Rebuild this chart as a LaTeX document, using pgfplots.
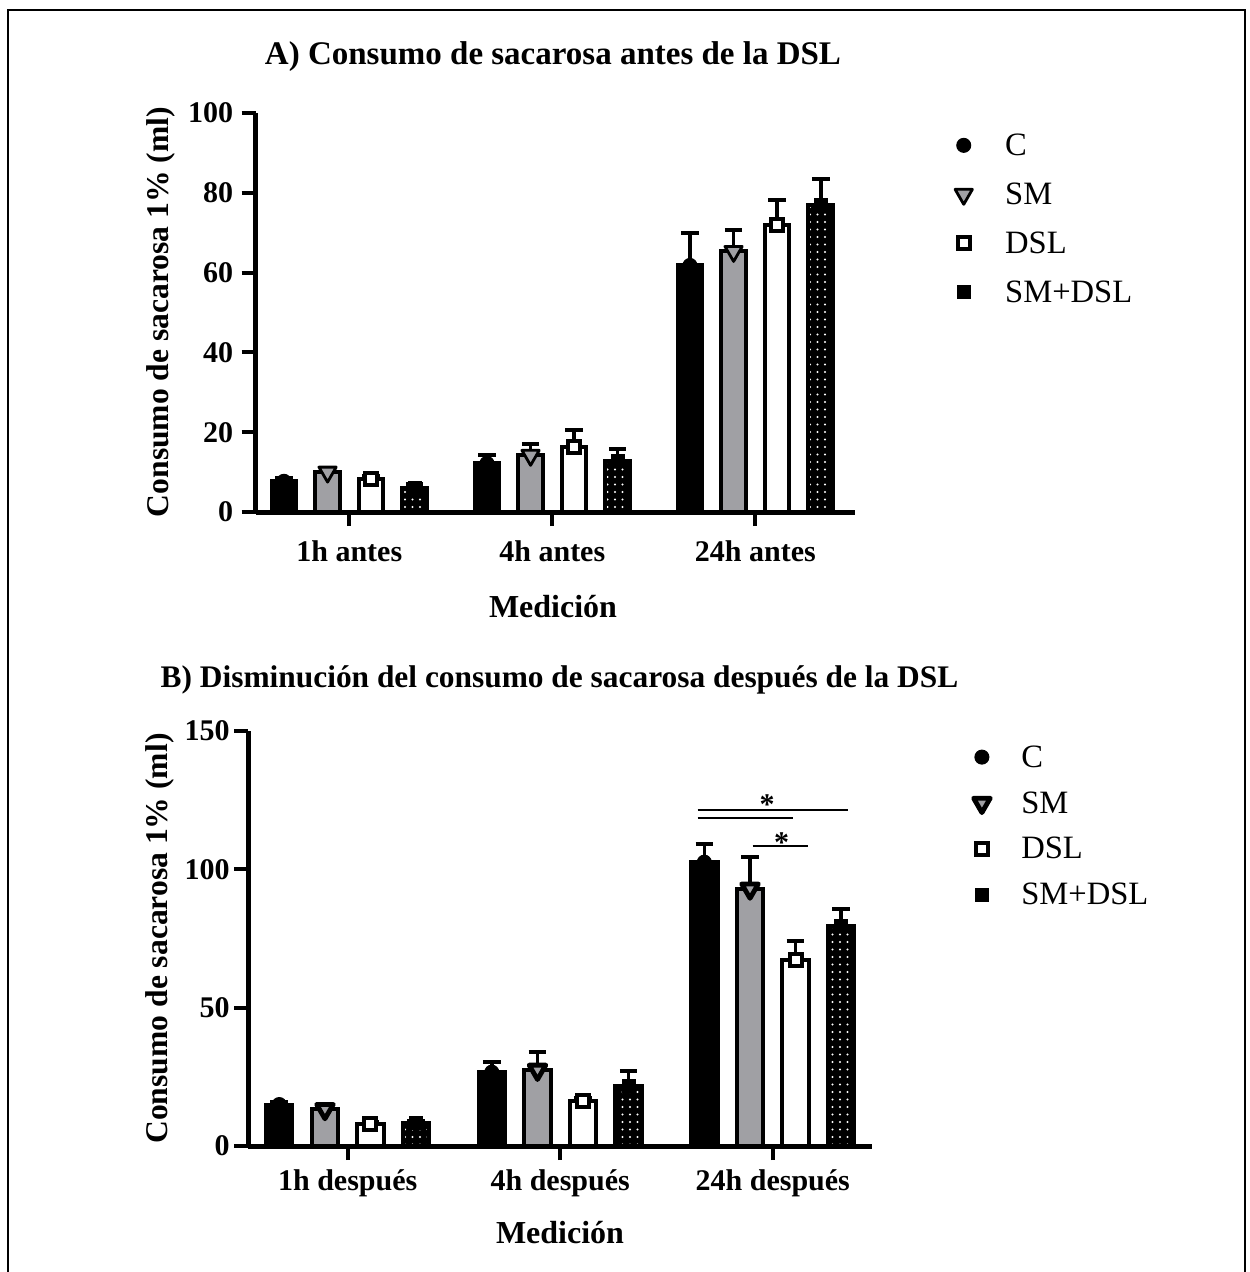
\documentclass[border=0pt]{standalone}
\usepackage{fontspec}
\setmainfont{Liberation Serif}
\usepackage{pgfplots}
\pgfplotsset{compat=1.18}
\usetikzlibrary{patterns.meta}
\definecolor{smgray}{RGB}{160,160,164}
\pgfplotsset{
  mybase/.style={
    scale only axis,
    enlargelimits=false,
    clip=false,
    axis x line*=bottom, axis y line*=left,
    axis line style={line width=2.5pt,-},
    tick style={line width=2pt, black},
    tick align=outside,
    major tick length=7pt,
    xtick={0,1,2},
    ymin=0,
    /pgf/number format/assume math mode=true,
    ticklabel style={font=\bfseries},
    legend cell align=left,
  },
  errs/.style={/pgfplots/error bars/y dir=plus, /pgfplots/error bars/y explicit,
    /pgfplots/error bars/error bar style={line width=1.8pt, black},
    /pgfplots/error bars/error mark options={rotate=90, line width=2pt, mark size=4.4pt, black}},
  barC/.style={ybar, bar shift=0pt, fill=black, draw=black, line width=2pt, errs},
  barSM/.style={ybar, bar shift=0pt, fill=smgray, draw=black, line width=2pt, errs},
  barDSL/.style={ybar, bar shift=0pt, fill=white, draw=black, line width=2pt, errs},
  barSMDSL/.style={ybar, bar shift=0pt, fill=black, draw=black, line width=2pt,
    postaction={pattern={Dots[distance=3.75pt, radius=0.55pt]}, pattern color=white}, errs},
  mC/.style={only marks, mark=*, mark size=3.5pt, mark options={fill=black, draw=black, line width=0.5pt}},
  mDSL/.style={only marks, mark=square*, mark size=3pt, mark options={fill=white, draw=black, line width=2pt}},
  mSMDSL/.style={only marks, mark=square*, mark size=3.3pt, mark options={fill=black, draw=black, line width=0.5pt}},
}
\begin{document}
\fontsize{15}{18}\selectfont\bfseries
\begin{tikzpicture}
\useasboundingbox (0pt,0pt) rectangle (624.5pt,-636pt);
\draw[line width=1pt] (4pt,-650pt) -- (4pt,-5pt) -- (622.5pt,-5pt) -- (622.5pt,-650pt);
\node[anchor=base, font=\fontsize{16.5}{19}\selectfont] at (276.5pt,-32.5pt) {A) Consumo de sacarosa antes de la DSL};
\node[anchor=base, font=\fontsize{16}{19}\selectfont] at (276.5pt,-308.5pt) {Medición};
\node[anchor=base, rotate=90, font=\fontsize{15.8}{19}\selectfont] at (84pt,-156pt) {Consumo de sacarosa 1\% (ml)};
\node[anchor=base, font=\fontsize{15.7}{19}\selectfont] at (279.75pt,-343.5pt) {B) Disminución del consumo de sacarosa después de la DSL};
\node[anchor=base, font=\fontsize{16}{19}\selectfont] at (280pt,-621.5pt) {Medición};
\node[anchor=base, rotate=90, font=\fontsize{15.8}{19}\selectfont] at (83.5pt,-469.25pt) {Consumo de sacarosa 1\% (ml)};

% ---------------- A ----------------
\begin{axis}[mybase,
  at={(127.75pt,-256pt)}, anchor=south west,
  width=299.75pt, height=199.5pt,
  xmin=-0.462, xmax=2.491, ymax=100,
  ytick={0,20,40,60,80,100},
  yticklabel style={anchor=east, inner sep=0pt, xshift=-4pt},
  xticklabel style={anchor=base, yshift=-17.5pt},
  xticklabels={1h antes, 4h antes, 24h antes},
  legend style={draw=none, fill=none, at={(axis description cs:1.150,0.950)}, anchor=north west,
    font=\fontsize{16.3}{19}\selectfont\mdseries, row sep=10.5pt, inner sep=0pt,
    nodes={inner sep=0pt, text height=11pt, text depth=3pt, anchor=base west}},
  legend image code/.code={\path (-9pt,0pt) (20.5pt,0pt); \draw[#1] plot coordinates {(0pt,5pt)};},
]
\addplot[bar width=0.1207, barC, forget plot] coordinates {(-0.322,7.7) +- (0,0.8) (0.678,12.2) +- (0,2.0) (1.678,61.8) +- (0,8.0)};
\addplot[bar width=0.1207, barSM, forget plot] coordinates {(-0.107,10.0) +- (0,0.5) (0.893,14.2) +- (0,2.8) (1.893,65.3) +- (0,5.5)};
\addplot[bar width=0.1207, barDSL, forget plot] coordinates {(0.107,8.3) +- (0,0.8) (1.107,16.3) +- (0,4.2) (2.107,72.0) +- (0,6.2)};
\addplot[bar width=0.1207, barSMDSL, forget plot] coordinates {(0.322,6.0) +- (0,1.0) (1.322,12.8) +- (0,2.9) (2.322,77.0) +- (0,6.5)};
\addplot[mC] coordinates {(-0.322,7.7) (0.678,12.2) (1.678,61.8)};
\addlegendentry{C}
\addplot[only marks, mark=triangle*, mark size=5pt, mark options={rotate=180, fill=smgray, draw=black, line width=1.4pt, line join=round}] coordinates {(-0.107,10.0) (0.893,14.2) (1.893,65.3)};
\addlegendentry{SM}
\addplot[mDSL] coordinates {(0.107,8.3) (1.107,16.3) (2.107,72.0)};
\addlegendentry{DSL}
\addplot[mSMDSL] coordinates {(0.322,6.0) (1.322,12.8) (2.322,77.0)};
\addlegendentry{SM+DSL}
\end{axis}

% ---------------- B ----------------
\begin{axis}[mybase,
  at={(124pt,-573pt)}, anchor=south west,
  width=312pt, height=207.5pt,
  xmin=-0.469, xmax=2.467, ymax=150,
  ytick={0,50,100,150},
  yticklabel style={anchor=east, inner sep=0pt, xshift=-2pt},
  xticklabel style={anchor=base, yshift=-15pt},
  xticklabels={1h después, 4h después, 24h después},
  legend style={draw=none, fill=none, at={(axis description cs:1.146,0.967)}, anchor=north west,
    font=\fontsize{16.3}{19}\selectfont\mdseries, row sep=8.95pt, inner sep=0pt,
    nodes={inner sep=0pt, text height=11pt, text depth=3pt, anchor=base west}},
  legend image code/.code={\path (-9pt,0pt) (19.5pt,0pt); \draw[#1] plot coordinates {(0pt,5pt)};},
]
\addplot[bar width=0.1247, barC, forget plot] coordinates {(-0.322,15.0) +- (0,0.8) (0.678,26.7) +- (0,3.7) (1.678,102.6) +- (0,6.4)};
\addplot[bar width=0.1247, barSM, forget plot] coordinates {(-0.107,13.3) +- (0,0.8) (0.893,27.5) +- (0,6.5) (1.893,93.0) +- (0,11.5)};
\addplot[bar width=0.1247, barDSL, forget plot] coordinates {(0.107,7.8) +- (0,1.0) (1.107,16.3) +- (0,1.0) (2.107,67.3) +- (0,6.7)};
\addplot[bar width=0.1247, barSMDSL, forget plot] coordinates {(0.322,8.2) +- (0,1.0) (1.322,21.7) +- (0,5.3) (2.322,79.5) +- (0,6.2)};
\addplot[mC] coordinates {(-0.322,15.0) (0.678,26.7) (1.678,102.6)};
\addlegendentry{C}
\addplot[only marks, mark=triangle*, mark size=4.8pt, mark options={rotate=180, fill=smgray, draw=black, line width=2.4pt, line join=round}] coordinates {(-0.107,13.3) (0.893,27.5) (1.893,93.0)};
\addlegendentry{SM}
\addplot[mDSL] coordinates {(0.107,7.8) (1.107,16.3) (2.107,67.3)};
\addlegendentry{DSL}
\addplot[mSMDSL] coordinates {(0.322,8.2) (1.322,21.7) (2.322,79.5)};
\addlegendentry{SM+DSL}
\draw[line width=1pt] (axis cs:1.647,121.4) -- (axis cs:2.355,121.4);
\draw[line width=1pt] (axis cs:1.647,118.5) -- (axis cs:2.093,118.5);
\draw[line width=1pt] (axis cs:1.905,108.4) -- (axis cs:2.167,108.4);
\node[anchor=base, yshift=-2pt] at (axis cs:1.973,121.4) {*};
\node[anchor=base, yshift=-3pt] at (axis cs:2.042,108.4) {*};
\end{axis}
\end{tikzpicture}
\end{document}
